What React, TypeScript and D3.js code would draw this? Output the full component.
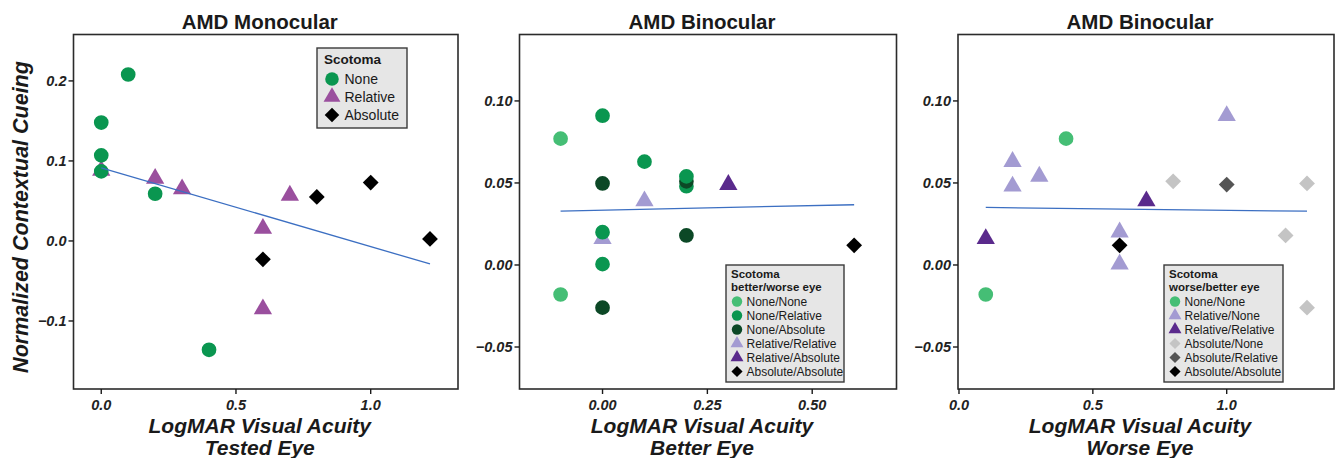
import React from 'react';
import * as d3 from 'd3';

// panel 1: AMD monocular, tested eye
const monoScotoma = ['None', 'None', 'None', 'None', 'None', 'None',
  'Relative', 'Relative', 'Relative', 'Relative', 'Relative', 'Relative',
  'Absolute', 'Absolute', 'Absolute', 'Absolute'];
const monoAcuity = [0.1, 0.0, 0.0, 0.0, 0.2, 0.4, 0.0, 0.2, 0.3, 0.7, 0.6, 0.6, 0.8, 1.0, 1.22, 0.6];
const monoCueing = [0.208, 0.148, 0.107, 0.087, 0.059, -0.136, 0.088, 0.078, 0.065, 0.057, 0.0155, -0.085, 0.055, 0.073, 0.0025, -0.023];

// panels 2 & 3: AMD binocular, one row per subject
const betterScotoma = ['None', 'None', 'None', 'None', 'None', 'None', 'None', 'None',
  'None', 'None', 'None', 'None', 'Relative', 'Relative', 'Relative', 'Absolute'];
const worseScotoma = ['None', 'None', 'Relative', 'Relative', 'Relative', 'Absolute', 'Relative', 'Relative',
  'Relative', 'Absolute', 'Absolute', 'Absolute', 'Relative', 'Relative', 'Absolute', 'Absolute'];
const betterAcuity = [-0.1, -0.1, 0.0, 0.1, 0.2, 0.2, 0.2, 0.0, 0.0, 0.0, 0.2, 0.0, 0.1, 0.0, 0.3, 0.6];
const worseAcuity = [0.4, 0.1, 1.0, 0.2, 0.2, 0.8, 0.3, 0.6, 0.6, 1.3, 1.22, 1.3, 0.7, 0.1, 1.0, 0.6];
const binoCueing = [0.077, -0.018, 0.091, 0.063, 0.048, 0.051, 0.054, 0.020, 0.0005, 0.0497, 0.018, -0.026, 0.039, 0.016, 0.049, 0.012];

const monoYTicks = [-0.1, 0.0, 0.1, 0.2];
const binoYTicks = [-0.05, 0.0, 0.05, 0.1];
const monoXTicks = [0.0, 0.5, 1.0];
const betterXTicks = [0.0, 0.25, 0.5];
const worseXTicks = [0.0, 0.5, 1.0];

const monoLegend = ['None', 'Relative', 'Absolute'];
const betterLegend = ['None/None', 'None/Relative', 'None/Absolute', 'Relative/Relative', 'Relative/Absolute', 'Absolute/Absolute'];
const worseLegend = ['None/None', 'Relative/None', 'Relative/Relative', 'Absolute/None', 'Absolute/Relative', 'Absolute/Absolute'];

const FONT = '"Liberation Sans", Arial, Helvetica, sans-serif';

type Style = { shape: string; color: string };

const monoStyle: Record<string, Style> = {
  None: { shape: 'circle', color: '#0a9650' },
  Relative: { shape: 'triangle', color: '#9a4f9e' },
  Absolute: { shape: 'diamond', color: '#000000' },
};
const betterStyle: Record<string, Style> = {
  'None/None': { shape: 'circle', color: '#45be75' },
  'None/Relative': { shape: 'circle', color: '#0a9650' },
  'None/Absolute': { shape: 'circle', color: '#0c4826' },
  'Relative/Relative': { shape: 'triangle', color: '#a39bd2' },
  'Relative/Absolute': { shape: 'triangle', color: '#5a2a8c' },
  'Absolute/Absolute': { shape: 'diamond', color: '#000000' },
};
const worseStyle: Record<string, Style> = {
  'None/None': { shape: 'circle', color: '#45be75' },
  'Relative/None': { shape: 'triangle', color: '#a39bd2' },
  'Relative/Relative': { shape: 'triangle', color: '#5a2a8c' },
  'Absolute/None': { shape: 'diamond', color: '#c4c4c4' },
  'Absolute/Relative': { shape: 'diamond', color: '#555555' },
  'Absolute/Absolute': { shape: 'diamond', color: '#000000' },
};

const shapeOrder: Record<string, number> = { triangle: 0, circle: 1, diamond: 2 };

function symbolPath(shape: string, scale: number) {
  if (shape === 'circle') return d3.symbol(d3.symbolCircle, 170 * scale)()!;
  if (shape === 'triangle') return d3.symbol(d3.symbolTriangle, 145 * scale)()!;
  return d3.symbol(d3.symbolSquare, 125 * scale)()!;
}

function Marker({ shape, color, x, y, scale = 1 }: { shape: string; color: string; x: number; y: number; scale?: number }) {
  const rot = shape === 'diamond' ? ' rotate(45)' : '';
  return <path d={symbolPath(shape, scale)} transform={`translate(${x},${y})${rot}`} fill={color} />;
}

type Pt = { x: number; y: number; key: string };

function Panel(props: {
  left: number; right: number; top: number; bottom: number;
  xDomain: [number, number]; yDomain: [number, number];
  xTicks: number[]; yTicks: number[]; xFmt: string; yFmt: string;
  points: Pt[]; styles: Record<string, Style>;
  title: string; xTitle: string[];
  legendTitle: string[]; legendItems: string[];
  legendBox: [number, number, number, number]; big?: boolean;
}) {
  const { left, right, top, bottom, points, styles } = props;
  const x = d3.scaleLinear().domain(props.xDomain).range([left, right]);
  const y = d3.scaleLinear().domain(props.yDomain).range([bottom, top]);

  // least squares fit over every point in the panel
  const mx = d3.mean(points, p => p.x)!;
  const my = d3.mean(points, p => p.y)!;
  const sxy = d3.sum(points, p => (p.x - mx) * (p.y - my));
  const sxx = d3.sum(points, p => (p.x - mx) ** 2);
  const slope = sxy / sxx;
  const [x0, x1] = d3.extent(points, p => p.x) as [number, number];
  const fit = d3.line<number>().x(v => x(v)).y(v => y(my + slope * (v - mx)));

  const ordered = points.slice().sort((a, b) => shapeOrder[styles[a.key].shape] - shapeOrder[styles[b.key].shape]);
  const xf = d3.format(props.xFmt);
  const yf = d3.format(props.yFmt);
  const cx = (left + right) / 2 - 6;
  const [lx, ly, lw, lh] = props.legendBox;
  const big = !!props.big;

  return (
    <g>
      <text x={cx} y={29} textAnchor="middle" fontFamily={FONT} fontWeight="bold" fontSize={20.5} fill="#1a1a1a">{props.title}</text>
      <rect x={left} y={top} width={right - left} height={bottom - top} fill="white" stroke="#2b2b2b" strokeWidth={1.6} />
      {props.yTicks.map(t => (
        <g key={'y' + t}>
          <line x1={left - 5} x2={left} y1={y(t)} y2={y(t)} stroke="#1a1a1a" strokeWidth={1.4} />
          <text x={left - 7} y={y(t)} dy="0.36em" textAnchor="end" fontFamily={FONT} fontStyle="italic" fontWeight="bold" fontSize={14.5} fill="#222">{yf(t)}</text>
        </g>
      ))}
      {props.xTicks.map(t => (
        <g key={'x' + t}>
          <line x1={x(t)} x2={x(t)} y1={bottom} y2={bottom + 5} stroke="#1a1a1a" strokeWidth={1.4} />
          <text x={x(t)} y={bottom + 21} textAnchor="middle" fontFamily={FONT} fontStyle="italic" fontWeight="bold" fontSize={14.5} fill="#222">{xf(t)}</text>
        </g>
      ))}
      {props.xTitle.map((s, i) => (
        <text key={s} x={cx} y={432.5 + i * 22} textAnchor="middle" fontFamily={FONT} fontStyle="italic" fontWeight="bold" fontSize={21} fill="#1a1a1a">{s}</text>
      ))}
      {ordered.map((p, i) => {
        const st = styles[p.key];
        return <Marker key={i} shape={st.shape} color={st.color} x={x(p.x)} y={y(p.y)} />;
      })}
      <path d={fit([x0, x1])!} stroke="#3c6fc2" strokeWidth={1.3} fill="none" />
      <rect x={lx} y={ly} width={lw} height={lh} fill="#e6e6e6" stroke="#3a3a3a" strokeWidth={1.4} />
      {props.legendTitle.map((s, i) => (
        <text key={s} x={lx + (big ? 7 : 5)} y={ly + (big ? 16 : 13) + i * 13} fontFamily={FONT} fontWeight="bold" fontSize={big ? 13.5 : 11.5} fill="#1a1a1a">{s}</text>
      ))}
      {props.legendItems.map((s, i) => {
        const st = styles[s];
        const iy = big ? ly + 31 + i * 18 : ly + 36.5 + i * 14;
        return (
          <g key={s}>
            <Marker shape={st.shape} color={st.color} x={lx + (big ? 15 : 11)} y={iy} scale={big ? 0.85 : 0.5} />
            <text x={lx + (big ? 27.5 : 20.5)} y={iy} dy="0.36em" fontFamily={FONT} fontSize={big ? 14 : 12} fill="#1a1a1a">{s}</text>
          </g>
        );
      })}
    </g>
  );
}

export default function App() {
  const monoPts: Pt[] = monoAcuity.map((v, i) => ({ x: v, y: monoCueing[i], key: monoScotoma[i] }));
  const betterPts: Pt[] = betterAcuity.map((v, i) => ({ x: v, y: binoCueing[i], key: `${betterScotoma[i]}/${worseScotoma[i]}` }));
  const worsePts: Pt[] = worseAcuity.map((v, i) => ({ x: v, y: binoCueing[i], key: `${worseScotoma[i]}/${betterScotoma[i]}` }));

  return (
    <svg width={1335} height={458} style={{ position: 'absolute', left: 0, top: 0 }}>
      <rect width={1335} height={458} fill="white" />
      <text transform="translate(27.5,217) rotate(-90)" textAnchor="middle" fontFamily={FONT} fontStyle="italic" fontWeight="bold" fontSize={21.5} fill="#1a1a1a">Normalized Contextual Cueing</text>
      <Panel left={73.5} right={458} top={34.5} bottom={389}
        xDomain={[-0.103, 1.324]} yDomain={[-0.185, 0.258]}
        xTicks={monoXTicks} yTicks={monoYTicks} xFmt=".1f" yFmt=".1f"
        points={monoPts} styles={monoStyle}
        title="AMD Monocular" xTitle={['LogMAR Visual Acuity', 'Tested Eye']}
        legendTitle={['Scotoma']} legendItems={monoLegend}
        legendBox={[317, 48, 90, 80]} big />
      <Panel left={519.5} right={896.5} top={34.5} bottom={389}
        xDomain={[-0.198, 0.701]} yDomain={[-0.0756, 0.1405]}
        xTicks={betterXTicks} yTicks={binoYTicks} xFmt=".2f" yFmt=".2f"
        points={betterPts} styles={betterStyle}
        title="AMD Binocular" xTitle={['LogMAR Visual Acuity', 'Better Eye']}
        legendTitle={['Scotoma', 'better/worse eye']} legendItems={betterLegend}
        legendBox={[726, 265, 118, 117]} />
      <Panel left={958} right={1334} top={34.5} bottom={389}
        xDomain={[-0.0037, 1.4008]} yDomain={[-0.0756, 0.1405]}
        xTicks={worseXTicks} yTicks={binoYTicks} xFmt=".1f" yFmt=".2f"
        points={worsePts} styles={worseStyle}
        title="AMD Binocular" xTitle={['LogMAR Visual Acuity', 'Worse Eye']}
        legendTitle={['Scotoma', 'worse/better eye']} legendItems={worseLegend}
        legendBox={[1164, 265, 119, 117]} />
    </svg>
  );
}
